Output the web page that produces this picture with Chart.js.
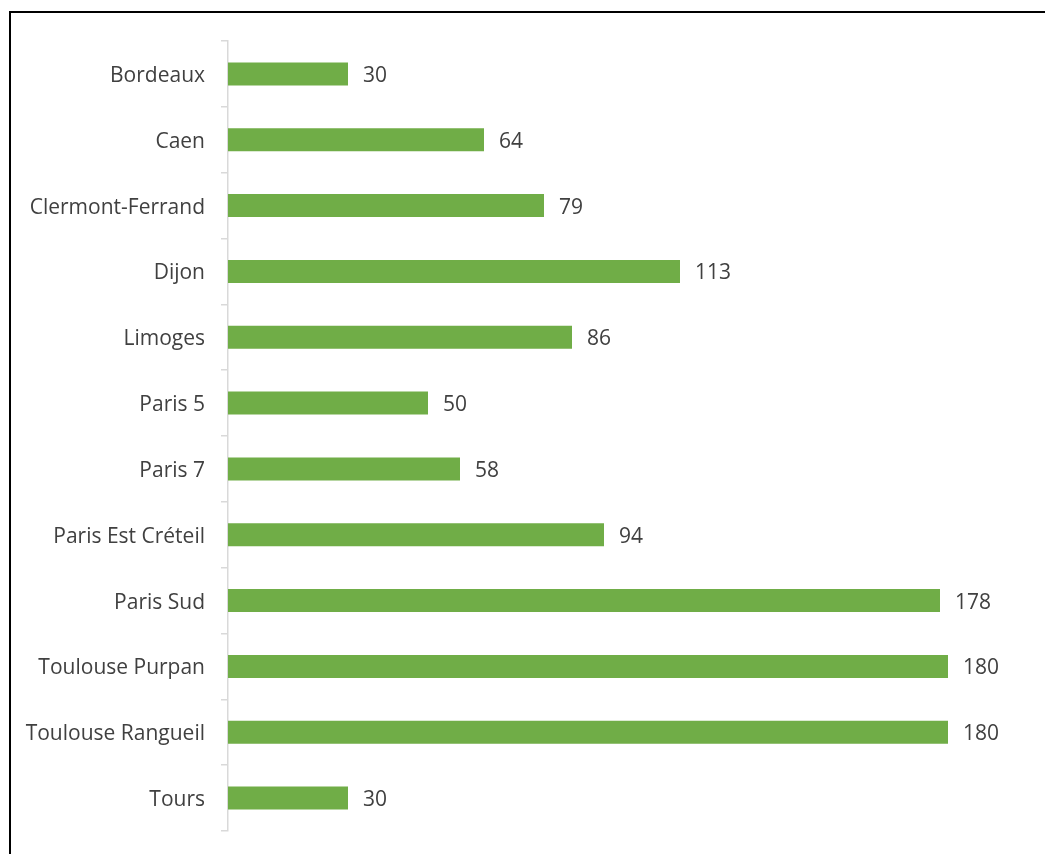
<!DOCTYPE html>
<html>
<head>
<meta charset="utf-8">
<script src="https://cdn.jsdelivr.net/npm/chart.js@4/dist/chart.umd.min.js"></script>
<style>
  html, body { margin: 0; padding: 0; background: #fff; overflow: hidden; }
  #frame {
    position: absolute; left: 9px; top: 11px; width: 1100px; height: 900px;
    border-top: 2px solid #000; border-left: 2px solid #000;
  }
  #barChart { position: absolute; left: 0; top: 0; }
</style>
</head>
<body>
<div id="frame"></div>
<canvas id="barChart" width="1045" height="854"></canvas>
<script>
// Data
const cities = ['Bordeaux', 'Caen', 'Clermont-Ferrand', 'Dijon', 'Limoges', 'Paris 5', 'Paris 7',
    'Paris Est Créteil', 'Paris Sud', 'Toulouse Purpan', 'Toulouse Rangueil', 'Tours'];
const counts = [30, 64, 79, 113, 86, 50, 58, 94, 178, 180, 180, 30];

// Draw the value next to the end of each bar
const valueLabels = {
    id: 'valueLabels',
    afterDatasetsDraw(chart) {
        const ctx = chart.ctx;
        const meta = chart.getDatasetMeta(0);
        ctx.save();
        ctx.font = '21px "Open Sans"';
        ctx.fillStyle = '#404040';
        ctx.textAlign = 'left';
        ctx.textBaseline = 'middle';
        meta.data.forEach((bar, i) => {
            ctx.fillText(String(counts[i]), bar.x + 15, bar.y + 2);
        });
        ctx.restore();
    }
};

new Chart(document.getElementById('barChart'), {
    type: 'bar',
    data: {
        labels: cities,
        datasets: [{
            data: counts,
            backgroundColor: '#70AD47',
            borderWidth: 0,
            categoryPercentage: 1,
            barPercentage: 0.35
        }]
    },
    options: {
        indexAxis: 'y',
        responsive: false,
        devicePixelRatio: 1,
        animation: false,
        layout: { padding: { left: 0, right: 17, top: 41, bottom: 23 } },
        scales: {
            x: {
                display: false,
                min: 0,
                max: 200
            },
            y: {
                afterFit(scale) {
                    scale.width = 228;
                    scale.paddingTop = 0;
                    scale.paddingBottom = 0;
                },
                grid: {
                    offset: true,
                    drawOnChartArea: false,
                    color: '#d9d9d9',
                    tickLength: 7,
                    lineWidth: 1.5
                },
                border: { color: '#d9d9d9', width: 1.5 },
                ticks: {
                    color: '#404040',
                    padding: 16,
                    labelOffset: 2,
                    font: { family: '"Open Sans"', size: 21 }
                }
            }
        },
        plugins: {
            legend: { display: false },
            tooltip: { enabled: false }
        }
    },
    plugins: [valueLabels]
});
</script>
</body>
</html>
